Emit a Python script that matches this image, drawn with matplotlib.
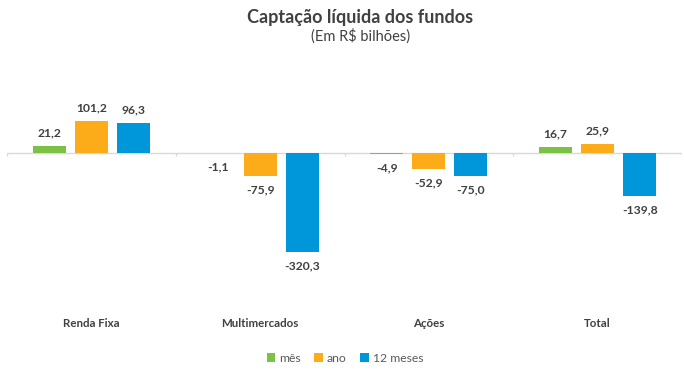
import matplotlib
matplotlib.use("Agg")
import matplotlib.pyplot as plt
import numpy as np

categories = ["Renda Fixa", "Multimercados", "Ações", "Total"]
series_names = ["mês", "ano", "12 meses"]
mes = [21.2, -1.1, -4.9, 16.7]
ano = [101.2, -75.9, -52.9, 25.9]
doze_meses = [96.3, -320.3, -75.0, -139.8]
colors = ["#7BC143", "#FCAC19", "#0096DA"]

plt.rcParams['font.family'] = ['Lato', 'DejaVu Sans']

W, H = 684, 379
fig = plt.figure(figsize=(W / 100, H / 100), dpi=100)
ax_left, ax_right = 7, 682
ax_top, ax_bot = 90.5, 307.5
ax = fig.add_axes([ax_left / W, 1 - ax_bot / H, (ax_right - ax_left) / W, (ax_bot - ax_top) / H])
ax.set_xlim(-0.5, len(categories) - 0.5)
ax.set_ylim(-500, 200)

x = np.arange(len(categories))
width = 0.196
step = 0.249
data = [mes, ano, doze_meses]
for i, (vals, name, c) in enumerate(zip(data, series_names, colors)):
    xs = x + (i - 1) * step
    ax.bar(xs, vals, width, color=c, label=name, zorder=3)
    for xv, v in zip(xs, vals):
        lab = f"{v:.1f}".replace(".", ",")
        off = 9.5 if v >= 0 else -10
        ax.annotate(lab, (xv, v), xytext=(0, off), textcoords="offset points",
                    ha="center", va="center", fontsize=8.7, fontweight="bold",
                    color="#404040", zorder=4)

ax.axhline(0, color="#D9D9D9", lw=1.0, zorder=2)
ax.vlines(np.arange(len(categories) + 1) - 0.5, -10, 0, color="#D9D9D9", lw=1.0, zorder=2)

for s in ax.spines.values():
    s.set_visible(False)
ax.set_yticks([])
ax.set_xticks(x)
ax.set_xticklabels(categories, fontsize=8.3, color="#404040", fontweight="bold")
ax.tick_params(axis="x", length=0, pad=7.5)

fig.text(360 / W, 1 - 18 / H, "Captação líquida dos fundos", ha="center", va="center",
         fontsize=13, fontweight="bold", color="#404040")
fig.text(361 / W, 1 - 36 / H, "(Em R$ bilhões)", ha="center", va="center",
         fontsize=10.5, color="#404040")

leg = fig.legend(loc="center", bbox_to_anchor=(345 / W, 1 - 358 / H), ncol=3, frameon=False,
                 fontsize=8.7, handlelength=0.7, handleheight=0.7, handletextpad=0.35,
                 columnspacing=1.1)
for t in leg.get_texts():
    t.set_color("#595959")

fig.savefig("out.png", dpi=100)
